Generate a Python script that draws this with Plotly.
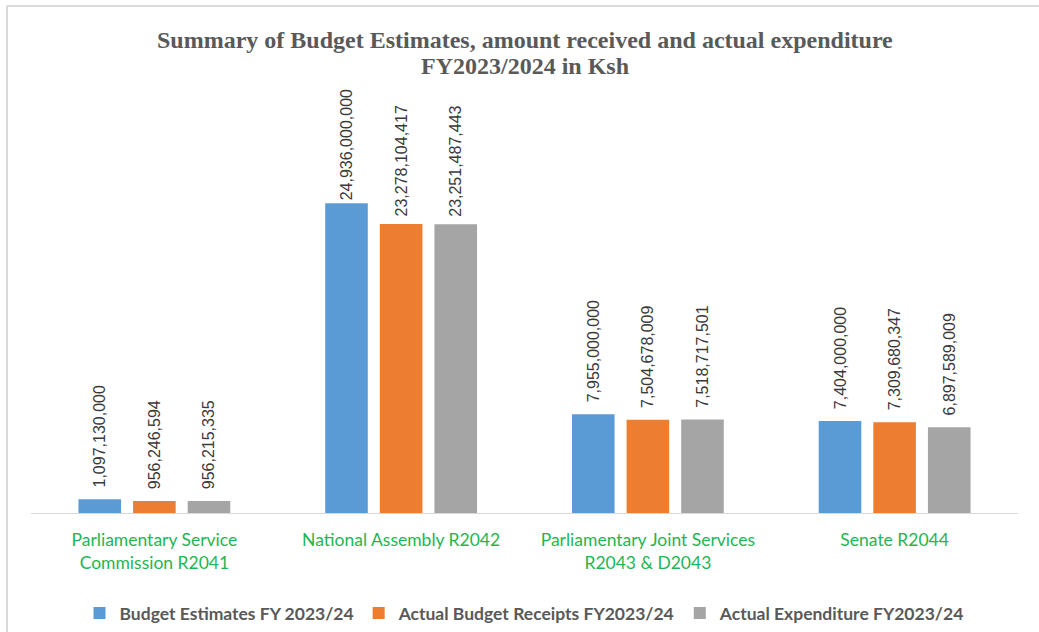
import plotly.graph_objects as go

categories = ["Parliamentary Service<br>Commission R2041", "National Assembly R2042",
              "Parliamentary Joint Services<br>R2043 & D2043", "Senate R2044"]
budget_estimates = [1097130000, 24936000000, 7955000000, 7404000000]
actual_receipts = [956246594, 23278104417, 7504678009, 7309680347]
actual_expenditure = [956215335, 23251487443, 7518717501, 6897589009]
title_lines = ["Summary of Budget Estimates, amount received and actual expenditure",
               "FY2023/2024 in Ksh"]

series = [
    ("Budget Estimates FY 2023/24", budget_estimates, "#5B9BD5"),
    ("Actual Budget Receipts FY2023/24", actual_receipts, "#ED7D31"),
    ("Actual Expenditure FY2023/24", actual_expenditure, "#A5A5A5"),
]

# label gap above bars (number of no-break spaces); the tallest group's labels sit closer,
# as in the original where they are squeezed under the title
label_pad = [[2, 0, 2, 2], [2, 1, 2, 2], [2, 1, 2, 2]]

W, H = 1039, 632
L, R, T, B = 31, 21, 95, 119
pw, ph = W - L - R, H - T - B
base_px = H - B

fig = go.Figure()
for (name, vals, col), pads in zip(series, label_pad):
    fig.add_trace(go.Bar(
        x=categories, y=vals, name=name,
        marker=dict(color=col, line=dict(width=0)),
        texttemplate=["\u00a0" * p + "%{y:,.0f}" for p in pads],
        textposition="outside", textangle=-90,
        constraintext="none",
        textfont=dict(family="Liberation Sans, Arial", size=16, color="#3A3A3A"),
        cliponaxis=False,
    ))

ymax = ph / 12.42 * 1e9

fig.update_layout(
    width=W, height=H,
    margin=dict(l=L, r=R, t=T, b=B, autoexpand=False),
    paper_bgcolor="white", plot_bgcolor="white",
    barmode="group", bargap=0.336, bargroupgap=0.22,
    xaxis=dict(
        showline=True, linecolor="#D9D9D9", linewidth=1,
        showgrid=False, ticks="", automargin=False, ticklabelstandoff=11,
        tickfont=dict(family="Lato, Calibri, sans-serif", size=17.5, color="#1FB552"),
    ),
    yaxis=dict(range=[0, ymax], visible=False, showgrid=False),
    legend=dict(
        orientation="h", x=0.5, xanchor="center", y=(base_px - 613) / ph, yanchor="middle",
        font=dict(family="Lato, Calibri, sans-serif", size=17.5, color="#595959", weight="bold"),
        itemsizing="constant", traceorder="normal",
    ),
    showlegend=True,
)

# title, two lines
for txt, ypx in zip(title_lines, [40, 66]):
    fig.add_annotation(
        text="<b>" + txt + "</b>", xref="paper", yref="paper",
        x=(525 - L) / pw, y=(base_px - ypx) / ph, xanchor="center", yanchor="middle",
        showarrow=False,
        font=dict(family="Liberation Serif, Times New Roman, serif", size=24, color="#595959"),
    )

# outer chart border (top and left edges only; the rest runs off the image)
bx0 = (7 - L) / pw
by1 = (base_px - 6) / ph
fig.add_shape(type="line", xref="paper", yref="paper",
              x0=bx0, x1=(W - L) / pw, y0=by1, y1=by1,
              line=dict(color="#D9D9D9", width=2), layer="below")
fig.add_shape(type="line", xref="paper", yref="paper",
              x0=bx0, x1=bx0, y0=by1, y1=(base_px - H) / ph,
              line=dict(color="#D9D9D9", width=2), layer="below")

fig.write_html("out.html")
